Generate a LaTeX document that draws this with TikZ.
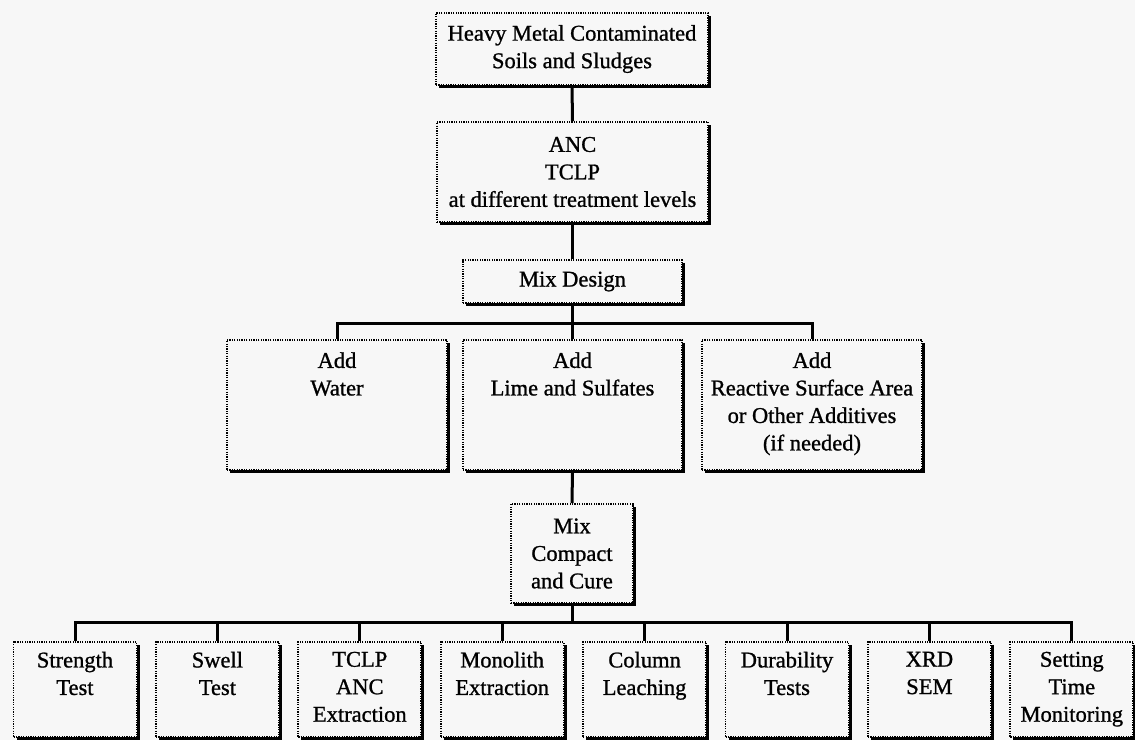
\documentclass[tikz,border=0pt]{standalone}
\usepackage{fontspec}
\setmainfont[FakeBold=1]{Liberation Serif}
\usetikzlibrary{shadows}
\definecolor{bg}{RGB}{247,247,247}
\begin{document}
\begin{tikzpicture}[x=1pt,y=-1pt,
  boxst/.style={fill=bg, draw=black, line width=1.8pt, dash pattern=on 1.2pt off 1.2pt,
    inner sep=0pt, general shadow={fill=black, shadow xshift=3pt, shadow yshift=-3pt}},
  txt/.style={align=center, inner sep=0pt, font=\fontsize{22.5}{27.5}\selectfont},
  conn/.style={line width=3pt, line join=miter}]
\fill[bg] (0,0) rectangle (1135,740);
\useasboundingbox (0,0) rectangle (1135,740);

% top chain
\node[boxst, minimum width=272pt, minimum height=72pt] (top) at (572,49) {};
\node[txt] (topt) at (top.center) {Heavy Metal Contaminated\\Soils and Sludges};
\node[boxst, minimum width=271pt, minimum height=100pt] (anc) at (572.5,172) {};
\node[txt] (anct) at (anc.center) {ANC\\TCLP\\at different treatment levels};
\node[boxst, minimum width=219pt, minimum height=43pt] (mixd) at (572.5,281.5) {};
\node[txt] (mixdt) at (mixd.center) {Mix Design};

% additive row
\node[boxst, minimum width=220pt, minimum height=130pt] (water) at (337,405) {};
\node[txt, anchor=north] (watert) at ([yshift=-13pt]water.north) {Add\\Water};
\node[boxst, minimum width=219pt, minimum height=130pt] (lime) at (572.5,405) {};
\node[txt, anchor=north] (limet) at ([yshift=-13pt]lime.north) {Add\\Lime and Sulfates};
\node[boxst, minimum width=220pt, minimum height=130pt] (react) at (812,405) {};
\node[txt, anchor=north] (reactt) at ([yshift=-13pt]react.north) {Add\\Reactive Surface Area\\or Other Additives\\(if needed)};

% mix compact
\node[boxst, minimum width=122pt, minimum height=99pt] (mixc) at (572,553.5) {};
\node[txt] (mixct) at (mixc.center) {Mix\\Compact\\and Cure};

% bottom row
\foreach \n/\t [count=\i from 0] in {s1/{Strength\\Test}, s2/{Swell\\Test}, s3/{TCLP\\ANC\\Extraction},
    s4/{Monolith\\Extraction}, s5/{Column\\Leaching}, s6/{Durability\\Tests}, s7/{XRD\\SEM},
    s8/{Setting\\Time\\Monitoring}} {
  \node[boxst, minimum width=123pt, minimum height=95pt] (\n) at (75+142.4*\i,689.5) {};
  \node[txt, anchor=north] (\n t) at ([yshift=-10.5pt]\n.north) {\t};
}

% connectors
\coordinate (b1) at (572.5,323);
\coordinate (b2) at (572,622);
\draw[conn] (top.south) -- (anc.north);
\draw[conn] (anc.south) -- (mixd.north);
\draw[conn] (mixd.south) -- (b1);
\draw[conn] (water.north) -- (water.north |- b1) -- (react.north |- b1) -- (react.north);
\draw[conn] (lime.north) -- (lime.north |- b1);
\draw[conn] (lime.south) -- (mixc.north);
\draw[conn] (mixc.south) -- (b2);
\draw[conn] (s1.north) -- (s1.north |- b2) -- (s8.north |- b2) -- (s8.north);
\foreach \n in {s2,s3,s4,s5,s6,s7} \draw[conn] (\n.north) -- (\n.north |- b2);
\end{tikzpicture}
\end{document}
